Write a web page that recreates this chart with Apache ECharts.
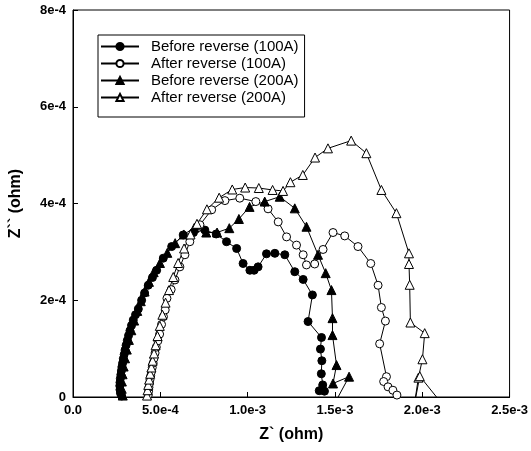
<!DOCTYPE html>
<html>
<head>
<meta charset="utf-8">
<script src="https://cdn.jsdelivr.net/npm/echarts@6/dist/echarts.min.js"></script>
<style>html,body{margin:0;padding:0;background:#fff;}#c{width:531px;height:451px;}</style>
</head>
<body>
<div id="c"></div>
<script>
// ---- data (Z', Z'') ----
const seriesNames = ['Before reverse (100A)', 'After reverse (100A)', 'Before reverse (200A)', 'After reverse (200A)'];

const before100 = [
[2.79e-4,2e-6],[2.72e-4,8e-6],[2.69e-4,1.5e-5],[2.68e-4,2.3e-5],[2.69e-4,3.0e-5],[2.71e-4,3.8e-5],
[2.74e-4,4.6e-5],[2.77e-4,5.4e-5],[2.80e-4,6.2e-5],[2.84e-4,7.0e-5],[2.88e-4,7.9e-5],[2.93e-4,8.8e-5],
[2.98e-4,9.7e-5],[3.04e-4,1.07e-4],[3.11e-4,1.17e-4],[3.18e-4,1.27e-4],[3.26e-4,1.37e-4],[3.35e-4,1.48e-4],
[3.45e-4,1.59e-4],[3.58e-4,1.70e-4],[3.74e-4,1.82e-4],[3.93e-4,2.00e-4],[4.10e-4,2.15e-4],[4.31e-4,2.31e-4],
[4.55e-4,2.47e-4],[4.79e-4,2.62e-4],[5.17e-4,2.87e-4],[5.65e-4,3.11e-4],[6.31e-4,3.35e-4],[6.90e-4,3.40e-4],
[7.55e-4,3.45e-4],[8.20e-4,3.37e-4],[8.79e-4,3.21e-4],[9.37e-4,3.07e-4],[9.74e-4,2.76e-4],[1.013e-3,2.62e-4],
[1.037e-3,2.62e-4],[1.060e-3,2.69e-4],[1.108e-3,2.96e-4],[1.156e-3,2.97e-4],[1.213e-3,2.94e-4],[1.270e-3,2.59e-4],
[1.318e-3,2.43e-4],[1.371e-3,2.11e-4],[1.346e-3,1.56e-4],[1.423e-3,1.23e-4],[1.417e-3,9.9e-5],[1.425e-3,7.5e-5],
[1.422e-3,4.8e-5],[1.430e-3,2.5e-5],[1.410e-3,1.3e-5],[1.440e-3,1.2e-5]
];

const after100 = [
[4.31e-4,4e-6],[4.33e-4,1.2e-5],[4.35e-4,2.0e-5],[4.38e-4,2.8e-5],[4.41e-4,3.6e-5],[4.45e-4,4.4e-5],
[4.49e-4,5.2e-5],[4.54e-4,6.1e-5],[4.59e-4,7.0e-5],[4.64e-4,8.0e-5],[4.70e-4,9.1e-5],[4.77e-4,1.03e-4],
[4.86e-4,1.16e-4],[4.96e-4,1.30e-4],[5.07e-4,1.50e-4],[5.18e-4,1.66e-4],[5.28e-4,1.80e-4],[5.38e-4,2.04e-4],
[5.62e-4,2.22e-4],[5.84e-4,2.42e-4],[6.12e-4,2.69e-4],[6.41e-4,2.94e-4],[6.69e-4,3.21e-4],[7.27e-4,3.56e-4],
[7.94e-4,3.87e-4],[8.70e-4,4.06e-4],[9.55e-4,4.11e-4],[1.047e-3,4.04e-4],[1.117e-3,3.89e-4],[1.175e-3,3.62e-4],
[1.223e-3,3.31e-4],[1.280e-3,3.14e-4],[1.318e-3,2.94e-4],[1.337e-3,2.73e-4],[1.384e-3,2.75e-4],[1.432e-3,3.05e-4],
[1.489e-3,3.40e-4],[1.556e-3,3.33e-4],[1.632e-3,3.11e-4],[1.705e-3,2.76e-4],[1.747e-3,2.31e-4],[1.766e-3,1.85e-4],
[1.789e-3,1.57e-4],[1.756e-3,1.10e-4],[1.795e-3,4.2e-5],[1.779e-3,3.2e-5],[1.804e-3,2.1e-5],[1.832e-3,1.4e-5],
[1.855e-3,4e-6]
];

const before200 = [
[2.85e-4,3e-6],[2.79e-4,1.7e-5],[2.80e-4,3.2e-5],[2.84e-4,4.7e-5],[2.90e-4,6.3e-5],[2.98e-4,8.0e-5],
[3.08e-4,9.8e-5],[3.20e-4,1.18e-4],[3.34e-4,1.38e-4],[3.50e-4,1.58e-4],[3.68e-4,1.78e-4],[3.88e-4,1.98e-4],
[4.10e-4,2.18e-4],[4.35e-4,2.38e-4],[4.62e-4,2.58e-4],[4.98e-4,2.77e-4],[5.40e-4,2.98e-4],[5.85e-4,3.18e-4],
[6.35e-4,3.36e-4],[6.95e-4,3.50e-4],[7.63e-4,3.40e-4],[8.25e-4,3.40e-4],[8.95e-4,3.49e-4],[9.50e-4,3.68e-4],
[1.011e-3,3.93e-4],[1.098e-3,4.04e-4],[1.184e-3,4.14e-4],[1.270e-3,3.90e-4],[1.337e-3,3.52e-4],[1.403e-3,2.94e-4],
[1.447e-3,2.56e-4],[1.480e-3,2.21e-4],[1.486e-3,1.63e-4],[1.486e-3,1.28e-4],[1.509e-3,6.6e-5],[1.489e-3,2.8e-5],
[1.581e-3,4.2e-5],[1.500e-3,-1.2e-5]
];

const after200 = [
[4.24e-4,3e-6],[4.27e-4,1.4e-5],[4.31e-4,2.5e-5],[4.36e-4,3.6e-5],[4.42e-4,4.8e-5],[4.49e-4,6.1e-5],
[4.56e-4,7.5e-5],[4.64e-4,9.0e-5],[4.73e-4,1.07e-4],[4.84e-4,1.26e-4],[4.97e-4,1.47e-4],[5.12e-4,1.70e-4],
[5.30e-4,1.95e-4],[5.50e-4,2.21e-4],[5.74e-4,2.48e-4],[6.02e-4,2.77e-4],[6.36e-4,3.07e-4],[6.73e-4,3.36e-4],
[7.10e-4,3.58e-4],[7.67e-4,3.88e-4],[8.37e-4,4.12e-4],[9.12e-4,4.29e-4],[9.86e-4,4.33e-4],[1.064e-3,4.32e-4],
[1.143e-3,4.28e-4],[1.203e-3,4.26e-4],[1.245e-3,4.44e-4],[1.316e-3,4.59e-4],[1.386e-3,4.95e-4],[1.460e-3,5.14e-4],
[1.593e-3,5.30e-4],[1.680e-3,5.04e-4],[1.766e-3,4.28e-4],[1.852e-3,3.80e-4],[1.924e-3,2.97e-4],[1.924e-3,2.75e-4],
[1.928e-3,2.32e-4],[1.932e-3,1.54e-4],[2.014e-3,1.32e-4],[2.001e-3,7.8e-5],[1.978e-3,4.0e-5],[1.955e-3,-1.5e-5],
[1.986e-3,4.3e-5],[2.104e-3,-1e-5]
];

const xTickLabels = ['0.0','5.0e-4','1.0e-3','1.5e-3','2.0e-3','2.5e-3'];
const yTickLabels = ['0','2e-4','4e-4','6e-4','8e-4'];
const xStep = 5e-4, yStep = 2e-4;

// ---- chart ----
const FONT = '"Liberation Sans", Arial, Helvetica, sans-serif';
const chart = echarts.init(document.getElementById('c'), null, {renderer: 'canvas'});

function mk(name, data, symbol, size, fill) {
  return {
    name: name, type: 'line', data: data,
    symbol: symbol, symbolSize: size, showAllSymbol: true,
    clip: true, animation: false,
    lineStyle: {color: '#000', width: 1},
    itemStyle: {color: fill, borderColor: '#000', borderWidth: 1},
    emphasis: {disabled: true}
  };
}

chart.setOption({
  backgroundColor: '#fff',
  animation: false,
  grid: {left: 73, right: 21, top: 10, bottom: 54, show: true, borderColor: '#000', borderWidth: 1, backgroundColor: 'transparent'},
  legend: {
    orient: 'vertical', left: 98, top: 35,
    borderColor: '#000', borderWidth: 1, padding: [4, 6, 12, 2],
    itemWidth: 38, itemHeight: 9, itemGap: 2,
    textStyle: {fontFamily: FONT, fontSize: 15, color: '#000', lineHeight: 15, padding: [0, 0, 0, 7]},
    data: seriesNames
  },
  xAxis: {
    type: 'value', min: 0, max: 2.5e-3, interval: xStep,
    name: 'Z` (ohm)', nameLocation: 'middle', nameGap: 30,
    nameTextStyle: {fontFamily: FONT, fontSize: 16, fontWeight: 'bold', color: '#000'},
    axisLine: {show: true, onZero: false, lineStyle: {color: '#000', width: 1}},
    axisTick: {show: true, inside: true, length: 5, lineStyle: {color: '#000'}},
    axisLabel: {fontFamily: FONT, fontSize: 13, fontWeight: 'bold', color: '#000', margin: 7,
      formatter: v => xTickLabels[Math.round(v / xStep)]},
    splitLine: {show: false}
  },
  yAxis: {
    type: 'value', min: 0, max: 8e-4, interval: yStep,
    name: 'Z`` (ohm)', nameLocation: 'middle', nameGap: 49,
    nameTextStyle: {fontFamily: FONT, fontSize: 16, fontWeight: 'bold', color: '#000'},
    axisLine: {show: true, onZero: false, lineStyle: {color: '#000', width: 1}},
    axisTick: {show: true, inside: true, length: 5, lineStyle: {color: '#000'}},
    axisLabel: {fontFamily: FONT, fontSize: 13, fontWeight: 'bold', color: '#000', margin: 7,
      formatter: v => yTickLabels[Math.round(v / yStep)]},
    splitLine: {show: false}
  },
  series: [
    mk(seriesNames[0], before100, 'circle', 8, '#000'),
    mk(seriesNames[1], after100, 'circle', 8, '#fff'),
    mk(seriesNames[2], before200, 'triangle', 9, '#000'),
    mk(seriesNames[3], after200, 'triangle', 9, '#fff')
  ]
});
</script>
</body>
</html>
